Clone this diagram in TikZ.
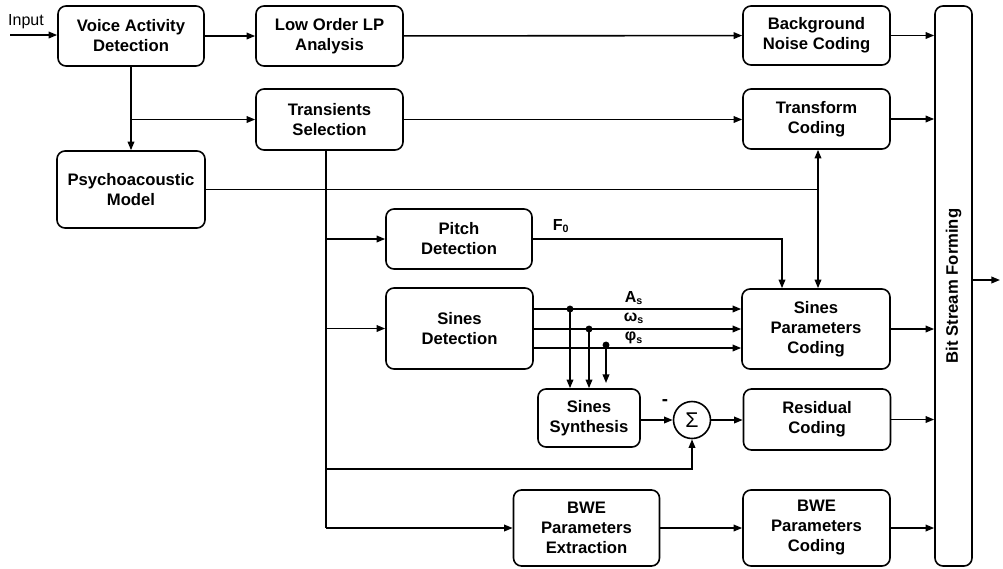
\documentclass[tikz,border=0pt]{standalone}
\usepackage{fontspec}
\setmainfont{Liberation Sans}
\usetikzlibrary{arrows.meta}
\begin{document}
\begin{tikzpicture}[x=0.75pt,y=-0.75pt,
  blk/.style={draw,line width=1.2pt,rounded corners=6pt,align=center,
    font=\bfseries\fontsize{12.5}{15}\selectfont,inner sep=0pt},
  ar/.style={line width=1.2pt,-{Triangle[length=6.5pt,width=5pt]}},
  dar/.style={line width=1.2pt,{Triangle[length=6.5pt,width=5pt]}-{Triangle[length=6.5pt,width=5pt]}},
  ln/.style={line width=1.2pt},
  lbl/.style={font=\bfseries\fontsize{12}{14}\selectfont,inner sep=0pt},
  dot/.style={circle,fill,inner sep=0pt,minimum size=5.2pt}
]
\useasboundingbox (0,0) rectangle (1003,568);

% blocks
\node[blk,minimum width=109.5pt,minimum height=45pt] (vad) at (131,36) {Voice Activity\\Detection};
\node[blk,minimum width=110.25pt,minimum height=45pt] (lp) at (329.5,36) {Low Order LP\\Analysis};
\node[blk,minimum width=110.25pt,minimum height=44.25pt] (bg) at (816.5,35.5) {Background\\Noise Coding};
\node[blk,minimum width=110.25pt,minimum height=45.75pt] (tr) at (329.5,119.5) {Transients\\Selection};
\node[blk,minimum width=110.25pt,minimum height=45pt] (tc) at (816.5,119) {Transform\\Coding};
\node[blk,minimum width=111pt,minimum height=57.75pt] (pm) at (131,189.5) {Psychoacoustic\\Model};
\node[blk,minimum width=109.5pt,minimum height=45pt] (pd) at (459,239) {Pitch\\Detection};
\node[blk,minimum width=110.25pt,minimum height=60.75pt] (sd) at (459.5,328.5) {Sines\\Detection};
\node[blk,minimum width=111pt,minimum height=60pt] (spc) at (816,329) {Sines\\Parameters\\Coding};
\node[blk,minimum width=76.5pt,minimum height=43.5pt] (ss) at (589,418) {Sines\\Synthesis};
\node[draw,circle,line width=1.2pt,minimum size=27.75pt,inner sep=0pt,font=\fontsize{16}{18}\selectfont] (sig) at (692,420) {Σ};
\node[blk,minimum width=110.25pt,minimum height=45.75pt] (rc) at (817,419.5) {Residual\\Coding};
\node[blk,minimum width=109.5pt,minimum height=57pt] (bwex) at (586.5,528) {BWE\\Parameters\\Extraction};
\node[blk,minimum width=110.25pt,minimum height=57pt] (bwec) at (816.5,528) {BWE\\Parameters\\Coding};
\node[blk,minimum width=27.75pt,minimum height=420pt] (bsf) at (953.5,286) {};
\node[font=\bfseries\fontsize{12.5}{15}\selectfont,rotate=90] (bsft) at (bsf.center) {Bit Stream Forming};

% coordinates
\coordinate (in) at (10,35);
\coordinate (t0) at (326,0);
\coordinate (rj) at (326,469);
\coordinate (dx) at (818,0);
\coordinate (fx) at (782,0);
\coordinate (d1) at (570,309);
\coordinate (d2) at (589,329);
\coordinate (d3e) at (606,383);
\coordinate (out) at (1000,280);
\coordinate (y1) at (0,309);
\coordinate (y2) at (0,329);
\coordinate (y3) at (0,348);

% texts
\node[font=\fontsize{12}{14}\selectfont,inner sep=0pt] (inl) at (26,22) {Input};
\node[lbl] (f0) at (561,226) {F\textsubscript{0}};
\node[lbl] (as) at (634,298) {A\textsubscript{s}};
\node[lbl] (ws) at (634,318) {ω\textsubscript{s}};
\node[lbl] (ps) at (634,338) {φ\textsubscript{s}};
\node[lbl,font=\bfseries\fontsize{14}{14}\selectfont] (minus) at (665,403) {-};

% connectors
\draw[ar] (in) -- (vad.west |- in);
\draw[ar] (vad) -- (lp);
\draw[ar] (lp) -- (bg);
\draw[ar] (bg.east) -- (bg.east -| bsf.west);
\draw[ar] (vad) -- (pm);
\draw[ar] (vad.south |- tr.west) -- (tr.west);
\draw[ar] (tr.east) -- (tr.east -| tc.west);
\draw[ar] (tc.east) -- (tc.east -| bsf.west);
\draw[ln] (pm.east) -- (pm.east -| dx);
\draw[dar] (tc.south -| dx) -- (spc.north -| dx);
\draw[ln] (tr.south -| t0) -- (bwex.west -| t0);
\draw[ar] (pd.west -| t0) -- (pd.west);
\draw[ar] (sd.west -| t0) -- (sd.west);
\draw[ar] (bwex.west -| t0) -- (bwex.west);
\draw[ar] (rj) -| (sig.south);
\draw[ar] (pd.east) -| (spc.north -| fx);
\draw[ar] (sd.east |- y1) -- (spc.west |- y1);
\draw[ar] (sd.east |- y2) -- (spc.west |- y2);
\draw[ar] (sd.east |- y3) -- (spc.west |- y3);
\node[dot] (n1) at (d1) {};
\node[dot] (n2) at (d2) {};
\node[dot] (n3) at (606,345) {};
\draw[ar] (n1.center) -- (d1 |- ss.north);
\draw[ar] (n2.center) -- (d2 |- ss.north);
\draw[ar] (n3.center) -- (d3e);
\draw[ar] (spc.east) -- (spc.east -| bsf.west);
\draw[ar] (ss.east |- sig.west) -- (sig.west);
\draw[ar] (sig.east) -- (sig.east -| rc.west);
\draw[ar] (rc.east) -- (rc.east -| bsf.west);
\draw[ar] (bwex) -- (bwec);
\draw[ar] (bwec.east) -- (bwec.east -| bsf.west);
\draw[ar] (bsf.east |- out) -- (out);
\end{tikzpicture}
\end{document}
